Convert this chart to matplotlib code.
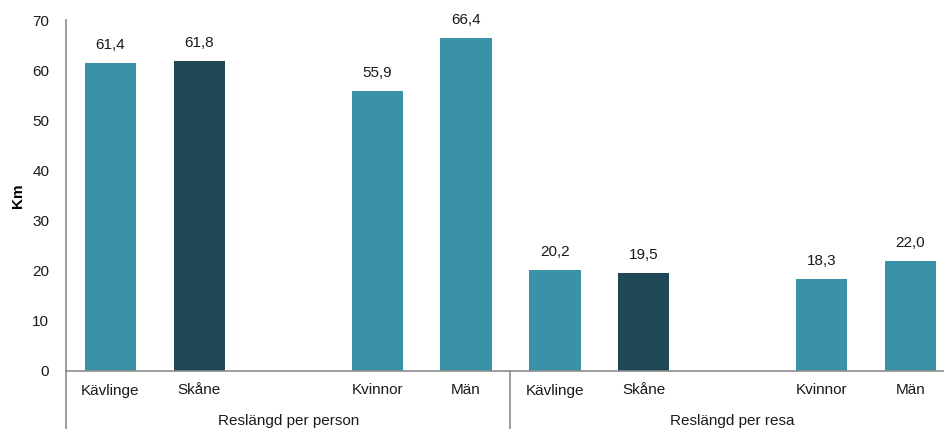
import matplotlib
matplotlib.use("Agg")
import matplotlib.pyplot as plt

plt.rcParams['font.family'] = ['Liberation Sans', 'DejaVu Sans']

categories = ["Kävlinge", "Skåne", "Kvinnor", "Män"]
groups = ["Reslängd per person", "Reslängd per resa"]
per_person = [61.4, 61.8, 55.9, 66.4]
per_resa = [20.2, 19.5, 18.3, 22.0]
value_labels_person = ["61,4", "61,8", "55,9", "66,4"]
value_labels_resa = ["20,2", "19,5", "18,3", "22,0"]

teal = "#3A92A8"
dark = "#1F4856"
colors = [teal, dark, teal, teal]
FS = 11

fig = plt.figure(figsize=(9.44, 4.29), dpi=100)
ax = fig.add_axes([66/944, 1-371/429, 889/944, 351/429])

slot_in_group = [0, 1, 3, 4]
xs, vals, labs, cols, ticklabels = [], [], [], [], []
for g, (series, vl) in enumerate([(per_person, value_labels_person), (per_resa, value_labels_resa)]):
    for i, s in enumerate(slot_in_group):
        xs.append(g*5 + s)
        vals.append(series[i])
        labs.append(vl[i])
        cols.append(colors[i])
        ticklabels.append(categories[i])

bars = ax.bar(xs, vals, width=0.575, color=cols)
for x, v, l in zip(xs, vals, labs):
    ax.annotate(l, (x, v), xytext=(0, 8), textcoords="offset points",
                ha="center", va="bottom", fontsize=FS, color="#1a1a1a")

ax.set_xlim(-0.5, 9.5)
ax.set_ylim(0, 70)
ax.set_yticks(range(0, 71, 10))
ax.tick_params(axis='y', length=0, labelsize=FS, pad=12, colors="#1a1a1a")
ax.set_xticks(xs)
ax.set_xticklabels(ticklabels)
ax.tick_params(axis='x', length=0, labelsize=FS, pad=9, colors="#1a1a1a")
for sp in ["top", "right"]:
    ax.spines[sp].set_visible(False)
ax.spines["left"].set_color("#8c8c8c")
ax.spines["bottom"].set_color("#8c8c8c")
ax.spines["left"].set_linewidth(1.2)
ax.spines["bottom"].set_linewidth(1.2)

ax.set_ylabel("Km", fontweight="bold", fontsize=FS, labelpad=5)

# group separators and labels
trans = ax.get_xaxis_transform()
for xsep in [-0.5, 4.5]:
    ax.plot([xsep, xsep], [0, -0.2], transform=trans, color="#8c8c8c", lw=1.2, clip_on=False)
for g, name in enumerate(groups):
    ax.text(g*5 + 2, -0.143, name, transform=trans, ha="center", va="center", fontsize=FS, color="#1a1a1a")

fig.savefig("out.png", dpi=100)
